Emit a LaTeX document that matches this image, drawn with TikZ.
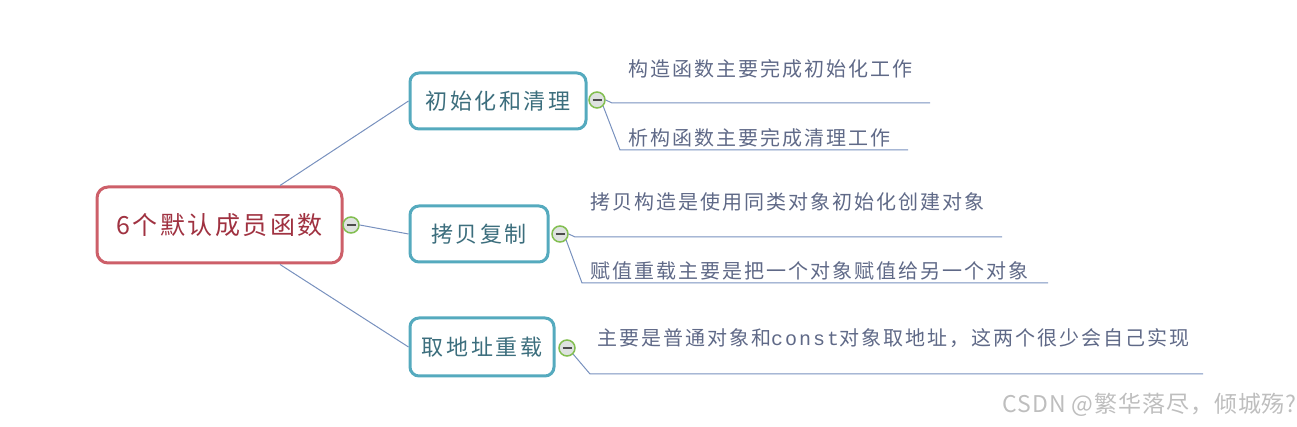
\documentclass[tikz,border=0pt]{standalone}
\usepackage{fontspec}
\setmainfont{Liberation Sans}
\newfontfamily\rootfont[LetterSpace=10]{Noto Sans CJK SC}
\newfontfamily\branchfont[LetterSpace=12]{Noto Sans CJK SC}
\newfontfamily\leaffont[LetterSpace=10]{Noto Sans CJK SC}
\newfontfamily\leafmono[LetterSpace=10]{Liberation Mono}
\newfontfamily\wmfont[LetterSpace=4]{Noto Sans CJK SC}
\usetikzlibrary{calc}
\definecolor{rootred}{RGB}{205,95,105}
\definecolor{roottext}{RGB}{160,50,65}
\definecolor{tealb}{RGB}{85,170,190}
\definecolor{branchtext}{RGB}{60,110,125}
\definecolor{linec}{RGB}{120,145,190}
\definecolor{leaftext}{RGB}{95,105,135}
\definecolor{greenc}{RGB}{130,190,80}
\definecolor{grayfill}{RGB}{222,226,224}
\definecolor{wmgray}{RGB}{190,190,190}
\tikzset{
  rootbox/.style={draw=rootred, line width=3pt, rounded corners=11pt, fill=white,
    minimum width=245pt, minimum height=76pt, inner sep=0pt,
    font=\rootfont\fontsize{25}{28}\selectfont, text=roottext},
  branchbox/.style={draw=tealb, line width=3pt, rounded corners=9pt, fill=white,
    minimum height=56pt, inner sep=0pt,
    font=\branchfont\fontsize{22}{26}\selectfont, text=branchtext},
  leaf/.style={anchor=west, inner sep=0pt, font=\leaffont\fontsize{20}{24}\selectfont, text=leaftext},
  conn/.style={draw=linec, line width=1pt},
  toggle/.style={circle, draw=greenc, line width=1.5pt, fill=grayfill, minimum size=16pt, inner sep=0pt,
    path picture={\draw[black!70, line width=1.2pt] ($(path picture bounding box.center)+(-4.5pt,0)$) -- ($(path picture bounding box.center)+(4.5pt,0)$);}},
}
\begin{document}
\begin{tikzpicture}[x=1pt,y=1pt]
\useasboundingbox (0,0) rectangle (1297,427);
% root
\node[rootbox] (root) at (219.5,202) {6个默认成员函数};
\node[toggle] (rc) at (351,202) {};
% branches
\node[branchbox, minimum width=176pt] (b1) at (498,326) {初始化和清理};
\node[branchbox, minimum width=138pt] (b2) at (479,193) {拷贝复制};
\node[branchbox, minimum width=144pt, minimum height=58pt] (b3) at (482,80) {取地址重载};
% root connectors
\coordinate (rt) at ($(root.north)+(60.5,0)$);
\coordinate (rb) at ($(root.south)+(60.5,0)$);
\draw[conn] (rt) -- (b1.west);
\draw[conn] (rc.east) -- (b2.west);
\draw[conn] (rb) -- (b3.west);
% toggles
\node[toggle] (c1) at (597,327) {};
\node[toggle] (c2) at (560,193) {};
\node[toggle] (c3) at (567,79) {};
% leaf lines
\coordinate (l1a) at (612,324); \coordinate (l1ae) at (930,324);
\coordinate (l1b) at (620,277); \coordinate (l1be) at (908,277);
\coordinate (l2a) at (575,190); \coordinate (l2ae) at (1002,190);
\coordinate (l2b) at (582,144); \coordinate (l2be) at (1048,144);
\coordinate (l3) at (590,53); \coordinate (l3e) at (1203,53);
\draw[conn] (c1.east) -- (l1a) -- (l1ae);
\draw[conn] (c1.south east) -- (l1b) -- (l1be);
\draw[conn] (c2.east) -- (l2a) -- (l2ae);
\draw[conn] (c2.south east) -- (l2b) -- (l2be);
\draw[conn] (c3.south east) -- (l3) -- (l3e);
% leaf texts
\node[leaf] (t1a) at (628,358) {构造函数主要完成初始化工作};
\node[leaf] (t1b) at (628,289) {析构函数主要完成清理工作};
\node[leaf] (t2a) at (590,225) {拷贝构造是使用同类对象初始化创建对象};
\node[leaf] (t2b) at (590,156) {赋值重载主要是把一个对象赋值给另一个对象};
\node[leaf] (t3) at (597,89) {主要是普通对象和{\leafmono const}对象取地址，这两个很少会自己实现};
% watermark
\node[anchor=east, inner sep=0pt, text=wmgray, font=\wmfont\fontsize{23}{26}\selectfont] (wm) at (1297,22) {CSDN @繁华落尽，倾城殇?};
\end{tikzpicture}
\end{document}
